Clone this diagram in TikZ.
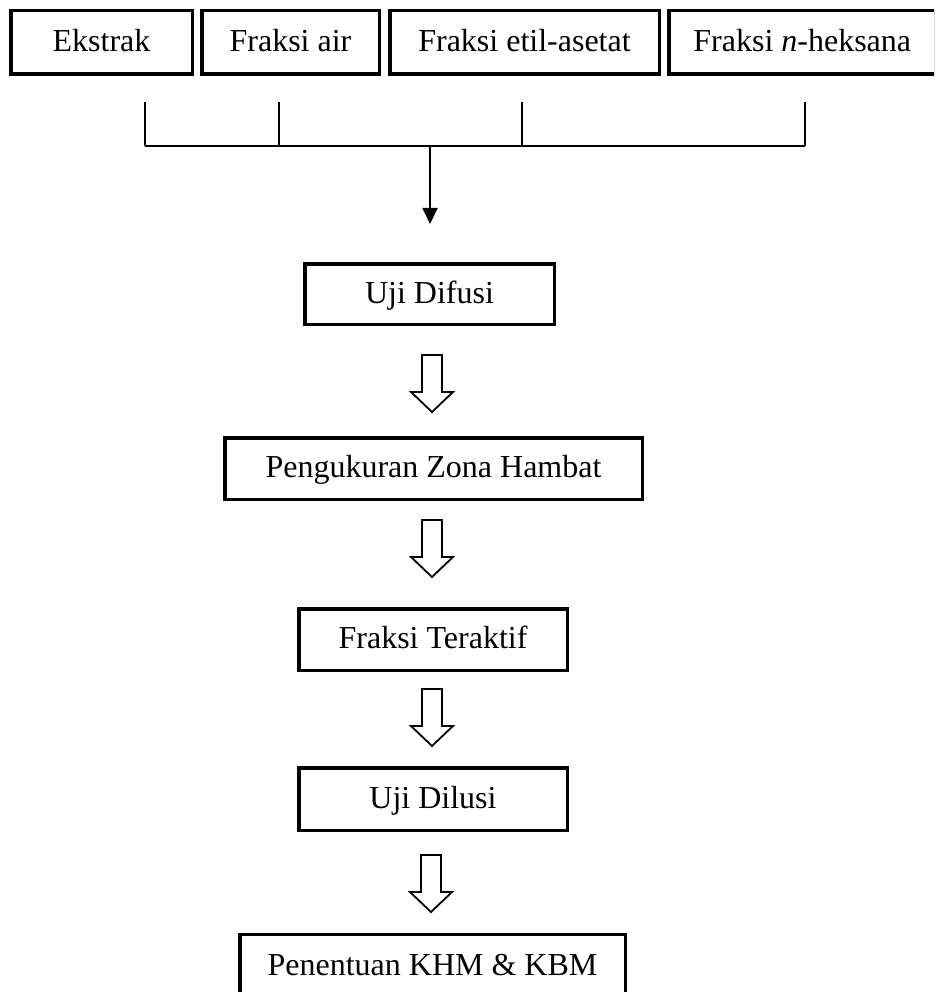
\documentclass[tikz,border=0pt]{standalone}
\usepackage{fontspec}
\setmainfont{Liberation Serif}
\usetikzlibrary{arrows.meta}
\begin{document}
\begin{tikzpicture}[x=1pt,y=-1pt,
  box/.style={draw, line width=3.4pt, inner sep=0pt,
    font=\fontsize{32}{38}\selectfont, text height=24pt, text depth=6pt, align=center},
  thinline/.style={line width=1.3pt},
  hollow/.style={draw, line width=1.8pt, line join=miter},
  harrow/.pic={\draw[hollow] (-10,0) -- (10,0) -- (10,37) -- (21,37) -- (0,57) -- (-21,37) -- (-10,37) -- cycle;}]
\useasboundingbox (0,0) rectangle (934,992);
\clip (0,0) rectangle (934,992);
\fill[white] (0,0) rectangle (934,992);

% top row
\node[box, minimum width=181.4pt, minimum height=63.4pt] (e1) at (101.5,42.5) {Ekstrak};
\node[box, minimum width=177.4pt, minimum height=63.4pt] (e2) at (290.5,42.5) {Fraksi air};
\node[box, minimum width=269.4pt, minimum height=63.4pt] (e3) at (524.5,42.5) {Fraksi etil-asetat};
\node[box, minimum width=266.9pt, minimum height=63.4pt] (e4) at (802.25,42.5) {Fraksi \textit{n}-heksana};

% bracket
\coordinate (t1) at (145,102);
\coordinate (t2) at (279,102);
\coordinate (t3) at (522,102);
\coordinate (t4) at (805,102);
\coordinate (h1) at (145,146);
\coordinate (h2) at (279,146);
\coordinate (h3) at (522,146);
\coordinate (h4) at (805,146);
\coordinate (j) at (430,146);
\coordinate (jt) at (430,224);
\draw[thinline] (t1) -- (h1);
\draw[thinline] (t2) -- (h2);
\draw[thinline] (t3) -- (h3);
\draw[thinline] (t4) -- (h4);
\draw[thinline] (h1) -- (h4);
\draw[line width=1.8pt, -{Triangle[length=16pt,width=15pt]}] (j) -- (jt);

% column
\node[box, minimum width=249.4pt, minimum height=60.4pt] (difusi) at (429.5,294) {Uji Difusi};
\node[box, minimum width=417.4pt, minimum height=61.4pt] (zona) at (433.5,468.5) {Pengukuran Zona Hambat};
\node[box, minimum width=268.4pt, minimum height=61.4pt] (aktif) at (433,639.5) {Fraksi Teraktif};
\node[box, minimum width=268.4pt, minimum height=62.4pt] (dilusi) at (433,799) {Uji Dilusi};
\node[box, minimum width=385.4pt, minimum height=63pt] (khm) at (432.5,966) {Penentuan KHM \& KBM};

% hollow arrows
\pic at (432,355) {harrow};
\pic at (432,520) {harrow};
\pic at (432,689) {harrow};
\pic at (431,855) {harrow};
\end{tikzpicture}
\end{document}
